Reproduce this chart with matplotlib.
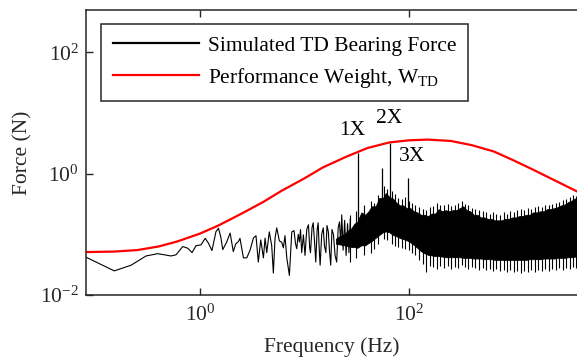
import matplotlib
matplotlib.use("Agg")
import matplotlib.pyplot as plt
from matplotlib.ticker import NullLocator

plt.rcParams['font.family'] = 'Liberation Serif'
plt.rcParams['mathtext.fontset'] = 'custom'
plt.rcParams['mathtext.rm'] = 'Liberation Serif'
plt.rcParams['mathtext.it'] = 'Liberation Serif:italic'
plt.rcParams['font.size'] = 15.5

# low / mid frequency part of the simulated force spectrum
line_freq = [0.081, 0.151, 0.219, 0.304, 0.394, 0.527, 0.589, 0.683, 0.763, 0.838,
             0.915, 1.02, 1.12, 1.20, 1.30, 1.42, 1.50, 1.58, 1.65, 1.80,
             1.94, 2.08, 2.20, 2.33, 2.41, 2.60, 2.80, 3.01, 3.24, 3.43,
             3.61, 3.81, 4.04, 4.19, 4.35, 4.60, 4.85, 5.03, 5.22, 5.42,
             5.74, 6.05, 6.27, 6.50, 6.76, 7.16, 7.55, 7.93, 8.20, 8.42,
             8.70, 8.93, 9.15, 9.39, 9.75, 10.1, 10.5, 10.9, 11.2, 11.4,
             11.8, 12.1, 12.5, 12.8, 13.2, 13.5, 13.8, 14.1, 14.6, 15.1,
             15.5, 16.0, 16.4, 16.9, 17.3, 17.8, 18.3, 18.9, 19.6, 20.3,
             21.0, 21.6, 22.2, 22.7, 23.4, 24.2, 25.0, 25.8, 26.6, 27.4]
line_force = [0.042, 0.025, 0.031, 0.044, 0.048, 0.044, 0.046, 0.063, 0.059, 0.050,
              0.065, 0.067, 0.086, 0.072, 0.054, 0.111, 0.126, 0.090, 0.056, 0.075,
              0.105, 0.052, 0.070, 0.076, 0.086, 0.041, 0.041, 0.055, 0.087, 0.095,
              0.035, 0.081, 0.041, 0.087, 0.050, 0.110, 0.065, 0.023, 0.087, 0.128,
              0.078, 0.074, 0.060, 0.095, 0.041, 0.021, 0.110, 0.115, 0.070, 0.058,
              0.100, 0.075, 0.120, 0.050, 0.098, 0.045, 0.120, 0.144, 0.060, 0.050,
              0.130, 0.155, 0.070, 0.035, 0.120, 0.155, 0.060, 0.031, 0.100, 0.128,
              0.065, 0.050, 0.140, 0.110, 0.055, 0.031, 0.120, 0.100, 0.045, 0.035,
              0.130, 0.160, 0.070, 0.210, 0.055, 0.170, 0.045, 0.150, 0.050, 0.180]

# dense high frequency part: solid core of the black band
band_freq = [20, 22, 24, 26, 28, 30, 32, 35, 38, 41,
             44, 48, 52, 56, 60, 65, 70, 76, 82, 88,
             95, 103, 111, 120, 130, 140, 152, 165, 178, 192,
             208, 225, 243, 262, 283, 306, 330, 357, 385, 416,
             450, 486, 525, 567, 612, 661, 714, 771, 833, 900,
             972, 1050, 1134, 1225, 1323, 1429, 1543, 1667, 1800, 1944,
             2100, 2268, 2449, 2645, 2857, 3086, 3332, 3599, 3887, 4050]
band_upper = [0.085, 0.095, 0.10, 0.115, 0.125, 0.15, 0.16, 0.23, 0.21, 0.24,
              0.29, 0.29, 0.40, 0.39, 0.48, 0.41, 0.39, 0.33, 0.30, 0.30,
              0.27, 0.27, 0.24, 0.23, 0.21, 0.21, 0.20, 0.22, 0.22, 0.26,
              0.24, 0.25, 0.24, 0.25, 0.25, 0.27, 0.29, 0.25, 0.24, 0.21,
              0.21, 0.19, 0.19, 0.18, 0.18, 0.17, 0.17, 0.17, 0.18, 0.18,
              0.19, 0.19, 0.20, 0.20, 0.21, 0.21, 0.23, 0.23, 0.24, 0.24,
              0.26, 0.26, 0.27, 0.28, 0.30, 0.31, 0.34, 0.36, 0.39, 0.39]
band_lower = [0.070, 0.068, 0.066, 0.064, 0.062, 0.062, 0.060, 0.066, 0.066, 0.072,
              0.078, 0.088, 0.098, 0.108, 0.112, 0.108, 0.098, 0.093, 0.087, 0.084,
              0.080, 0.074, 0.067, 0.060, 0.053, 0.049, 0.046, 0.045, 0.044, 0.044,
              0.043, 0.042, 0.042, 0.042, 0.042, 0.042, 0.041, 0.041, 0.041, 0.040,
              0.040, 0.040, 0.039, 0.039, 0.039, 0.038, 0.038, 0.038, 0.038, 0.038,
              0.038, 0.038, 0.038, 0.038, 0.038, 0.039, 0.039, 0.039, 0.039, 0.040,
              0.040, 0.040, 0.040, 0.041, 0.041, 0.041, 0.042, 0.042, 0.043, 0.043]

# single noise spikes sticking out of the band
noise_freq = [27, 31, 37, 43, 46, 50, 58, 62, 68, 73,
              79, 85, 91, 99, 107, 115, 125, 135, 146, 158,
              171, 185, 200, 216, 234, 253, 273, 295, 318, 343,
              370, 400, 432, 467, 505, 545, 589, 636, 687, 742,
              802, 866, 935, 1010, 1090, 1180, 1270, 1375, 1485, 1605,
              1730, 1870, 2020, 2180, 2355, 2545, 2750, 2970, 3210, 3465,
              3740, 3970]
noise_top = [0.21, 0.24, 0.30, 0.36, 0.33, 0.45, 0.62, 0.55, 0.52, 0.46,
             0.40, 0.38, 0.42, 0.35, 0.33, 0.30, 0.28, 0.26, 0.25, 0.28,
             0.29, 0.33, 0.31, 0.30, 0.32, 0.29, 0.31, 0.33, 0.35, 0.32,
             0.30, 0.27, 0.26, 0.25, 0.24, 0.23, 0.22, 0.23, 0.22, 0.21,
             0.23, 0.22, 0.24, 0.23, 0.25, 0.26, 0.25, 0.27, 0.26, 0.28,
             0.29, 0.28, 0.31, 0.30, 0.32, 0.33, 0.34, 0.37, 0.38, 0.41,
             0.44, 0.43]
noise_bottom = [0.035, 0.040, 0.045, 0.050, 0.058, 0.070, 0.085, 0.080, 0.070, 0.065,
                0.062, 0.060, 0.058, 0.055, 0.050, 0.045, 0.038, 0.032, 0.024, 0.030,
                0.029, 0.027, 0.030, 0.028, 0.030, 0.027, 0.029, 0.028, 0.031, 0.029,
                0.027, 0.029, 0.028, 0.026, 0.028, 0.026, 0.027, 0.025, 0.027, 0.025,
                0.026, 0.024, 0.026, 0.024, 0.025, 0.023, 0.025, 0.024, 0.026, 0.024,
                0.026, 0.025, 0.027, 0.025, 0.027, 0.026, 0.028, 0.026, 0.028, 0.027,
                0.029, 0.028]

# harmonic spikes (1X, 2X, 3X and one side peak)
spike_freq = [32.7, 55.5, 65.7, 98.6]
spike_top = [2.2, 1.24, 3.2, 0.85]
spike_base = [0.1, 0.2, 0.2, 0.15]

# performance weight W_TD
weight_freq = [0.08, 0.15, 0.25, 0.4, 0.6, 1.0, 1.5, 2.5, 4, 6,
               10, 15, 25, 40, 65, 100, 150, 250, 400, 650,
               1000, 1500, 2500, 4050]
weight_force = [0.051, 0.052, 0.055, 0.063, 0.076, 0.103, 0.14, 0.22, 0.34, 0.52,
                0.84, 1.27, 1.90, 2.65, 3.28, 3.55, 3.65, 3.47, 2.95, 2.32,
                1.66, 1.19, 0.77, 0.51]

harm_labels = ['1X', '2X', '3X']
harm_x = [28.5, 64.4, 107]
harm_y = [5.14, 8.1, 1.91]

fig = plt.figure(figsize=(5.77, 3.61), dpi=100)
ax = fig.add_axes([86 / 577, 66 / 361, 491 / 577, 285 / 361])
ax.set_xscale('log')
ax.set_yscale('log')

ax.fill_between(band_freq, band_lower, band_upper, color='black', lw=0.6)
ax.vlines(noise_freq, noise_bottom, noise_top, color='black', lw=0.8)
force_line, = ax.plot(line_freq, line_force, color='black', lw=0.8)
ax.vlines(spike_freq, spike_base, spike_top, color='black', lw=0.9)
weight_line, = ax.plot(weight_freq, weight_force, color='red', lw=1.6)

for lab, x, y in zip(harm_labels, harm_x, harm_y):
    ax.text(x, y, lab, ha='center', va='center')

ax.set_xlim(0.081, 4050)
ax.set_ylim(0.01, 500)
ax.set_xticks([1, 100])
ax.set_xticklabels(['$10^{0}$', '$10^{2}$'])
ax.set_yticks([0.01, 1, 100])
ax.set_yticklabels(['$10^{-2}$', '$10^{0}$', '$10^{2}$'])
ax.xaxis.set_minor_locator(NullLocator())
ax.yaxis.set_minor_locator(NullLocator())
ax.tick_params(direction='in', top=True, length=5, width=1, colors='#262626')
ax.tick_params(axis='x', pad=7, labelcolor='#262626')
ax.tick_params(axis='y', pad=5, labelcolor='#262626')
for side in ['left', 'bottom', 'top']:
    ax.spines[side].set_color('#262626')
    ax.spines[side].set_linewidth(1.1)
ax.spines['right'].set_visible(False)

ax.set_xlabel('Frequency (Hz)', color='#262626')
ax.set_ylabel('Force (N)', color='#262626')
ax.xaxis.set_label_coords(0.5, -0.148)
ax.yaxis.set_label_coords(-0.11, 0.5)

leg = ax.legend([force_line, weight_line],
                ['Simulated TD Bearing Force', 'Performance Weight, W$_{\\mathrm{TD}}$'],
                loc='upper left', bbox_to_anchor=(0.0305, 0.951), borderaxespad=0,
                fancybox=False, framealpha=1, edgecolor='#262626',
                handlelength=4.0, handletextpad=0.4, labelspacing=0.45, borderpad=0.55)
leg.get_frame().set_linewidth(1.1)
for h in leg.legend_handles:
    h.set_linewidth(1.6)

fig.savefig('out.png', dpi=100)
